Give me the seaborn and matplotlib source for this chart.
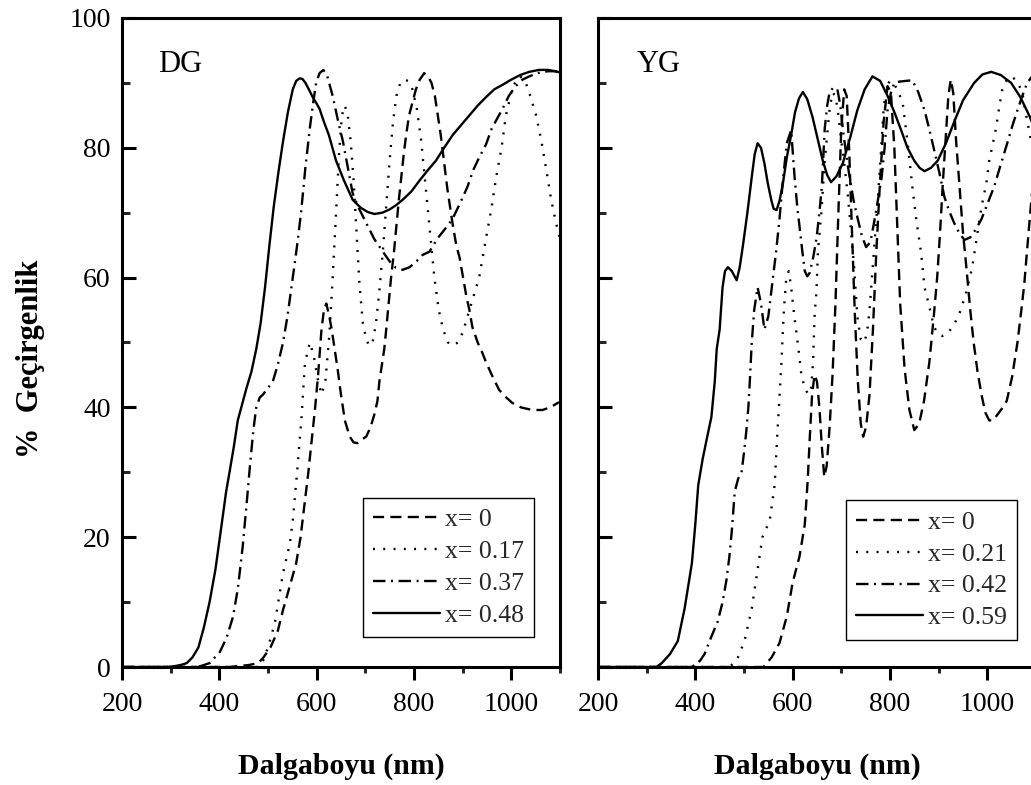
import matplotlib
matplotlib.use("Agg")
import matplotlib.pyplot as plt
import seaborn as sns
import pandas as pd

# ---------------- DATA ----------------
# Left panel: DG
dg_labels = ["x= 0", "x= 0.17", "x= 0.37", "x= 0.48"]

dg_x0_wl = [200, 420, 460, 480, 490, 505, 520, 531, 545, 558, 567, 575, 583, 590, 597, 603, 610, 615, 620, 626,
            631, 637, 643, 650, 658, 668, 676, 684, 692, 702, 711, 719, 725, 729, 735, 739, 743, 748, 753, 759,
            764, 769, 774, 779, 784, 790, 797, 804, 812, 821, 829, 836, 843, 849, 855, 859, 864, 869, 875, 880,
            887, 894, 901, 908, 914, 920, 931, 940, 948, 960, 975, 990, 1002, 1020, 1043, 1064, 1080, 1098]
dg_x0_T = [0, 0, 0.3, 0.6, 1.4, 3, 5.5, 8.8, 12.5, 16, 20, 25, 30, 35, 40, 45, 52, 55, 56, 54,
           52, 49, 46, 42, 38, 35.5, 34.6, 34.5, 35, 35.5, 37, 39, 41, 44, 47, 49, 52, 56, 60, 64,
           68, 72, 75.5, 79, 82, 85, 87, 89, 90.5, 91.5, 91, 90, 88, 85, 82, 79.6, 76.5, 73.5, 70.5, 68,
           65, 63, 60, 57, 55, 52.4, 50, 48.5, 47, 45, 42.7, 41.5, 40.7, 40, 39.6, 39.6, 40, 40.8]

dg_x17_wl = [200, 450, 480, 490, 500, 514, 531, 545, 551, 561, 569, 576, 586, 594, 602, 610, 618, 626, 633, 640,
             646, 652, 658, 664, 670, 676, 682, 688, 695, 702, 708, 715, 722, 729, 736, 743, 750, 757, 764, 772,
             780, 788, 797, 806, 815, 824, 833, 842, 851, 860, 870, 880, 890, 900, 910, 920, 934, 948, 960, 969,
             980, 989, 1000, 1010, 1018, 1027, 1035, 1043, 1051, 1062, 1072, 1082, 1092, 1100]
dg_x17_T = [0, 0, 0, 1, 3, 6.7, 14.5, 19, 22.6, 31, 38.5, 46.8, 50, 48, 44.5, 42, 44, 51, 60, 70,
            79, 85, 86.5, 85, 81, 75, 67, 59, 53, 50.5, 49.5, 50, 53, 58, 64, 71, 78, 84, 88, 90,
            90.5, 90.3, 89, 86, 81, 74, 67, 60, 55, 52, 50, 49.5, 50, 51.5, 54, 56.5, 60, 66, 71, 75.5,
            80, 85, 88.5, 90.5, 91, 90.5, 89, 87, 85, 81, 76.6, 72, 68.4, 66]

dg_x37_wl = [200, 340, 360, 380, 401, 415, 428, 438, 448, 456, 463, 470, 476, 483, 490, 500, 510, 520, 531, 540,
             551, 560, 568, 577, 586, 593, 599, 606, 614, 622, 633, 643, 654, 664, 674, 688, 702, 718, 736, 750,
             763, 777, 791, 805, 818, 832, 848, 864, 879, 895, 910, 922, 934, 948, 960, 971, 982, 995, 1009, 1023,
             1037, 1050, 1064, 1078, 1090, 1100]
dg_x37_T = [0, 0, 0.1, 0.6, 2.3, 4.5, 7.7, 12, 18.5, 25, 31, 36.5, 40, 41.5, 42, 43, 44, 46.5, 50, 54,
            60, 65, 70, 77, 83, 87, 90, 91.5, 92, 91, 88, 84.5, 81, 77, 73, 70.5, 68.4, 66, 64, 62.5,
            61.5, 61.2, 61.6, 62.5, 63.5, 64, 66, 67.5, 69, 71.5, 74, 76.6, 78.5, 80.5, 83, 84.5, 86, 88, 89.5, 90.5,
            91, 91.4, 91.7, 91.8, 91.8, 91.6]

dg_x48_wl = [200, 290, 305, 320, 333, 345, 357, 368, 380, 392, 404, 414, 421, 430, 438, 447, 456, 466, 476, 485,
             494, 503, 512, 522, 531, 541, 551, 558, 565, 571, 577, 584, 592, 600, 606, 615, 625, 640, 656, 674,
             690, 705, 719, 735, 750, 764, 777, 795, 812, 828, 845, 862, 880, 897, 914, 931, 948, 965, 982, 1000,
             1018, 1037, 1057, 1075, 1090, 1100]
dg_x48_T = [0, 0, 0.1, 0.3, 0.6, 1.5, 3, 6, 10, 15, 21.5, 27, 30, 34, 38, 40.5, 43, 45.5, 49, 53,
            58.5, 65, 71, 76.5, 81, 85.5, 89, 90.3, 90.7, 90.6, 90, 89, 87.8, 86.8, 86, 84, 82, 78, 75, 72,
            70.8, 70.1, 69.8, 70, 70.5, 71.2, 72, 73.3, 75, 76.5, 78, 80, 82, 83.5, 85, 86.5, 87.8, 89, 89.7, 90.5,
            91.2, 91.7, 92, 92, 91.8, 91.6]

# Right panel: YG
yg_labels = ["x= 0", "x= 0.21", "x= 0.42", "x= 0.59"]

yg_x0_wl = [200, 540, 557, 573, 588, 600, 614, 625, 631, 635, 640, 645, 650, 655, 660, 665, 670, 676, 682, 688,
            694, 700, 706, 711, 716, 722, 728, 734, 740, 745, 751, 758, 765, 772, 779, 787, 795, 802, 809, 815,
            821, 830, 840, 850, 860, 870, 881, 890, 897, 903, 909, 915, 920, 925, 930, 936, 943, 950, 957, 965,
            972, 980, 988, 996, 1004, 1012, 1020, 1030, 1040, 1051, 1062, 1070, 1076, 1086, 1100]
yg_x0_T = [0, 0, 1.5, 3.7, 7.8, 13, 17, 22, 28.8, 35, 42, 45, 44, 40, 34, 29.3, 31, 37, 45, 56,
           70, 83, 89, 88, 80, 67, 54, 44, 37.5, 35.5, 37, 42, 52, 64, 74, 84, 89.5, 88.5, 80, 68,
           56, 46, 39.6, 36.5, 37.5, 41, 47, 54, 60, 67, 75, 82, 88, 90.5, 88.5, 81, 74, 67, 61.6, 55,
           50, 45.5, 42, 39.2, 38, 38, 38.8, 39.8, 41, 44.7, 50, 55, 59, 68, 80]

yg_x21_wl = [200, 470, 485, 501, 516, 528, 538, 553, 563, 569, 573, 577, 582, 587, 592, 597, 602, 607, 612, 618,
             625, 632, 638, 642, 645, 649, 652, 659, 666, 671, 676, 682, 688, 694, 700, 707, 713, 719, 726, 733,
             740, 747, 753, 758, 764, 770, 776, 782, 787, 793, 800, 807, 815, 826, 836, 846, 854, 864, 871, 881,
             890, 899, 908, 916, 930, 943, 956, 969, 976, 984, 991, 998, 1004, 1011, 1018, 1025, 1031, 1040, 1049, 1058,
             1066, 1072, 1080, 1090, 1100]
yg_x21_T = [0, 0, 1, 4, 9, 15, 20, 22.6, 28, 36.5, 41.6, 47, 55, 60, 61, 58.5, 55, 52, 49, 45,
            43, 42, 43, 47, 54, 58, 64, 70, 78, 82, 86, 88.5, 88, 85, 81, 77, 73, 68, 62, 54,
            50.5, 50, 51.5, 55, 61, 67, 73, 80, 86, 89.5, 90.3, 90, 89, 87, 81, 74, 69, 63.8, 58.5, 55.5,
            52.5, 51.3, 51, 51.2, 52.5, 54.5, 57.5, 61.6, 65, 69, 72, 74.5, 78, 80.5, 83, 86.5, 89, 90.5, 91, 90.5,
            89.5, 88.5, 85, 81, 78]

yg_x42_wl = [200, 390, 400, 410, 419, 432, 446, 456, 464, 470, 475, 481, 488, 495, 500, 505, 509, 512, 516, 521,
             528, 535, 542, 550, 558, 566, 573, 580, 588, 597, 604, 610, 614, 620, 625, 630, 635, 642, 649, 655,
             660, 666, 671, 676, 684, 692, 698, 703, 710, 717, 725, 733, 742, 751, 760, 771, 783, 789, 795, 802,
             809, 820, 832, 846, 858, 871, 881, 891, 902, 912, 922, 932, 943, 953, 965, 977, 988, 1001, 1014, 1028,
             1041, 1052, 1062, 1072, 1082, 1092, 1100]
yg_x42_T = [0, 0, 0.3, 1, 2, 4.5, 7, 10, 13.4, 17, 21, 27, 29, 30, 33, 36.5, 40, 44, 50, 55,
            58.5, 56, 52, 54, 59, 64, 69, 75, 80.7, 82.7, 75.5, 70.5, 68, 64, 61, 60.2, 60.7, 63, 66, 70,
            74, 83, 86.5, 88.6, 89.3, 89, 86.5, 83, 79, 75.5, 72, 69.3, 66.5, 64.7, 65.5, 70, 75.5, 80, 85.8, 88.5,
            90, 90.2, 90.3, 90.4, 88.6, 85.8, 82.8, 79.6, 76, 72.4, 70.2, 68.4, 66.8, 65.8, 66.2, 67.5, 69, 71.5, 74, 77.5,
            80.7, 83.5, 85.8, 88, 90, 91, 91.5]

yg_x59_wl = [200, 320, 331, 348, 364, 378, 393, 400, 406, 415, 424, 433, 440, 444, 450, 456, 461, 467, 475, 485,
             491, 498, 507, 516, 522, 528, 535, 542, 549, 556, 561, 567, 573, 580, 588, 597, 605, 613, 621, 630,
             641, 651, 662, 671, 679, 690, 703, 718, 733, 748, 764, 780, 795, 809, 823, 836, 850, 861, 871, 884,
             898, 915, 932, 950, 973, 990, 1008, 1028, 1049, 1068, 1086, 1100]
yg_x59_T = [0, 0, 0.6, 2, 4, 9, 16, 22, 28, 32, 35.3, 38.5, 44, 49, 52, 58.5, 61, 61.6, 61, 59.6,
            61.5, 65, 70, 75.5, 79, 80.7, 80, 77.6, 74.5, 72, 70.6, 70.4, 71.8, 74.5, 78.5, 82, 85.5, 87.6, 88.6, 87.5,
            84.7, 81.5, 78, 75.8, 74.7, 75.6, 77.6, 81.5, 85.8, 89, 91, 90.3, 88, 85.5, 82.7, 80, 78, 76.9, 76.4, 76.9,
            78, 80.7, 84, 87.3, 90, 91.3, 91.7, 91.2, 90, 87.8, 85, 82.5]

x_major = [200, 400, 600, 800, 1000]
x_minor = [300, 500, 700, 900, 1100]
y_major = [0, 20, 40, 60, 80, 100]
y_minor = [10, 30, 50, 70, 90]

# ---------------- STYLE ----------------
sns.set_theme(style="white")
plt.rcParams["font.family"] = ["Liberation Serif", "DejaVu Serif"]
plt.rcParams["lines.scale_dashes"] = False

line_styles = [(0, (8, 4.5)), (0, (1.4, 6.0)), (0, (9, 4, 1.4, 4)), "-"]
LW = 1.7

fig = plt.figure(figsize=(10.31, 7.85), dpi=100)
axL = fig.add_axes([0.1183, 0.1503, 0.4248, 0.8268])
axR = fig.add_axes([0.5800, 0.1503, 0.4248, 0.8268])

panels = [
    (axL, "DG", dg_labels,
     [(dg_x0_wl, dg_x0_T), (dg_x17_wl, dg_x17_T), (dg_x37_wl, dg_x37_T), (dg_x48_wl, dg_x48_T)],
     (0.55, 0.046), 0.082),
    (axR, "YG", yg_labels,
     [(yg_x0_wl, yg_x0_T), (yg_x21_wl, yg_x21_T), (yg_x42_wl, yg_x42_T), (yg_x59_wl, yg_x59_T)],
     (0.566, 0.042), 0.089),
]

for ax, tag, labels, series, leg_anchor, tag_x in panels:
    for (wl, T), lab, ls in zip(series, labels, line_styles):
        df = pd.DataFrame({"wl": wl, "T": T})
        sns.lineplot(data=df, x="wl", y="T", ax=ax, color="black", linewidth=LW,
                     linestyle=ls, label=lab, estimator=None, sort=False)
    ax.set_xlim(200, 1100)
    ax.set_ylim(0, 100)
    ax.set_xticks(x_major)
    ax.set_xticks(x_minor, minor=True)
    ax.set_yticks(y_major)
    ax.set_yticks(y_minor, minor=True)
    ax.tick_params(axis="x", which="major", direction="out", length=9, width=2.2,
                   labelsize=20, pad=9, colors="black", bottom=True)
    ax.tick_params(axis="x", which="minor", direction="out", length=4.5, width=2.2, bottom=True)
    ax.tick_params(axis="y", which="major", direction="in", length=10, width=2.2,
                   labelsize=20, pad=8, colors="black", left=True)
    ax.tick_params(axis="y", which="minor", direction="in", length=6, width=2.2, left=True)
    for sp in ax.spines.values():
        sp.set_linewidth(2.2)
        sp.set_color("black")
        sp.set_visible(True)
    ax.set_xlabel("Dalgaboyu (nm)", fontsize=21.5, fontweight="bold", labelpad=26, color="black")
    ax.text(tag_x, 0.917, tag, transform=ax.transAxes, fontsize=22, va="baseline", color="black")
    leg = ax.legend(loc="lower left", bbox_to_anchor=leg_anchor, fontsize=18.5, frameon=True,
                    fancybox=False, edgecolor="black", framealpha=1, handlelength=2.6,
                    handletextpad=0.2, labelspacing=0.35, borderpad=0.4, borderaxespad=0)
    leg.get_frame().set_linewidth(1.0)
    ax.grid(False)

axL.set_ylabel("%  Geçirgenlik", fontsize=22, fontweight="bold", color="black")
axL.yaxis.set_label_coords(-0.175, 0.475)
axR.set_ylabel("")
axR.tick_params(axis="y", labelleft=False)

fig.savefig("out.png", dpi=100)
